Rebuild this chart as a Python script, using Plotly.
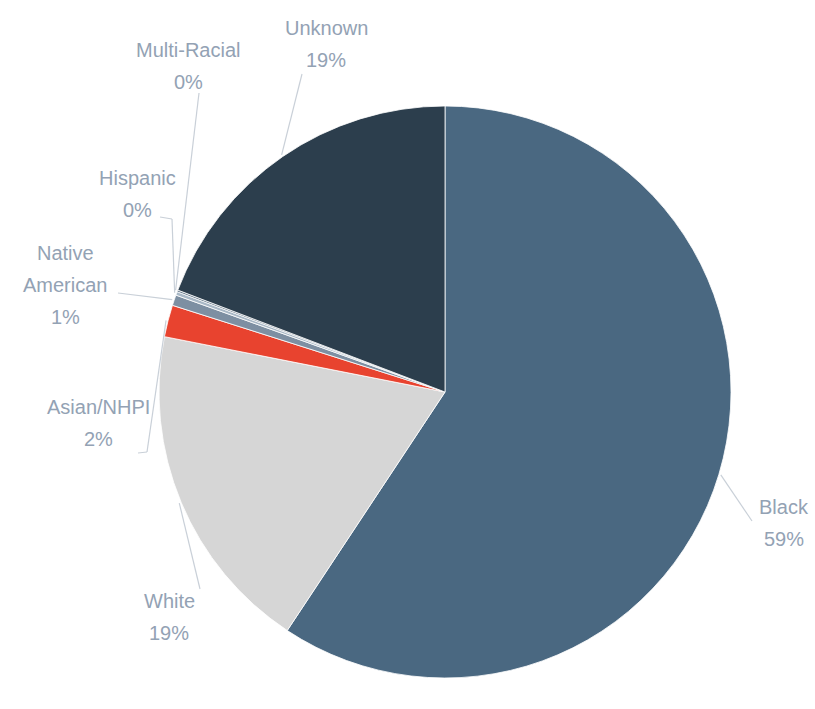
import math
import plotly.graph_objects as go

# Share of people by race/ethnicity (percent), in drawing order (clockwise from 12 o'clock)
groups = ["Black", "White", "Asian/NHPI", "Native American", "Hispanic", "Multi-Racial", "Unknown"]
shares = [59.3, 18.8, 1.8, 0.6, 0.2, 0.1, 19.2]
slice_colors = ["#4a6881", "#d6d6d6", "#e8432f", "#7d8fa2", "#a9b8c6", "#5b6f82", "#2c3e4d"]

# Names that wrap onto two lines in their callout
wrapped_names = {"Native American": ["Native", "American"]}

W, H = 815, 709
CX, CY, R = 445, 392, 286          # pie centre and radius, px
LINE_GAP = 32                      # callout line spacing, px
TEXT_COLOR = "#93a2b4"
LEADER_COLOR = "#c9d0d8"

# Callout layout: text centre x, first-line y, and leader waypoints (px) before the rim point
callouts = {
    "Black":           dict(x=784, y=507, via=[(752, 521)]),
    "White":           dict(x=169, y=601, via=[(200, 589)]),
    "Asian/NHPI":      dict(x=98,  y=407, via=[(138, 453), (147, 452)]),
    "Native American": dict(x=65,  y=253, via=[(118, 293)]),
    "Hispanic":        dict(x=137, y=178, via=[(160, 217), (172, 219)]),
    "Multi-Racial":    dict(x=188, y=50,  via=[(199, 93)]),
    "Unknown":         dict(x=326, y=28,  via=[(302, 74)]),
}

fig = go.Figure(
    go.Pie(
        labels=groups,
        values=shares,
        sort=False,
        direction="clockwise",
        rotation=0,
        marker=dict(colors=slice_colors, line=dict(color="#ffffff", width=0.8)),
        textinfo="none",
        hoverinfo="label+percent",
        showlegend=False,
        domain=dict(x=[(CX - R) / W, (CX + R) / W],
                    y=[1 - (CY + R) / H, 1 - (CY - R) / H]),
    )
)


def px(x, y):
    return x / W, 1 - y / H


total = sum(shares)
annotations = []
shapes = []
cum = 0.0
for name, val in zip(groups, shares):
    frac = val / total
    mid = (cum + frac / 2) * 2 * math.pi     # clockwise from 12 o'clock
    cum += frac
    rim = (CX + (R + 2) * math.sin(mid), CY - (R + 2) * math.cos(mid))

    spec = callouts[name]
    lines = wrapped_names.get(name, [name]) + [f"{round(frac * 100)}%"]
    for i, line in enumerate(lines):
        lx, ly = px(spec["x"], spec["y"] + i * LINE_GAP)
        annotations.append(dict(
            text=line, x=lx, y=ly, xref="paper", yref="paper",
            xanchor="center", yanchor="middle", showarrow=False,
            font=dict(family="Liberation Sans, Arial, sans-serif", size=20, color=TEXT_COLOR),
        ))

    pts = spec["via"] + [rim]
    for (x0, y0), (x1, y1) in zip(pts[:-1], pts[1:]):
        a0, b0 = px(x0, y0)
        a1, b1 = px(x1, y1)
        shapes.append(dict(type="line", xref="paper", yref="paper",
                           x0=a0, y0=b0, x1=a1, y1=b1,
                           line=dict(color=LEADER_COLOR, width=1.2)))

fig.update_layout(
    width=W, height=H,
    margin=dict(l=0, r=0, t=0, b=0),
    paper_bgcolor="#ffffff",
    plot_bgcolor="#ffffff",
    annotations=annotations,
    shapes=shapes,
)

fig.write_html("out.html")
